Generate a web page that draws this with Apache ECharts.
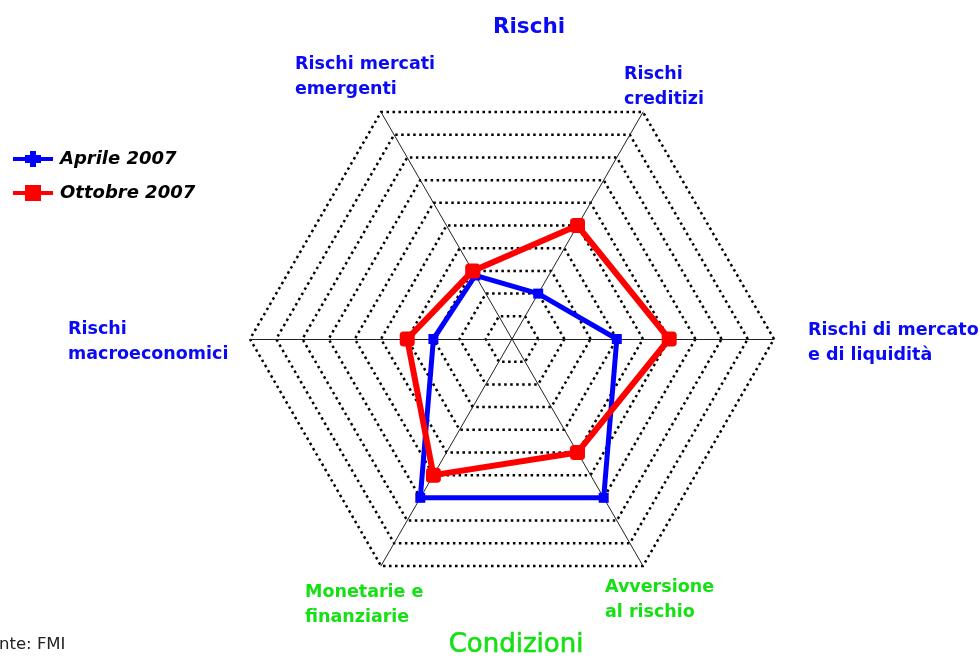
<!DOCTYPE html>
<html>
<head>
<meta charset="utf-8">
<title>Rischi e condizioni</title>
<script src="https://cdn.jsdelivr.net/npm/echarts@6/dist/echarts.min.js"></script>
<style>
  html, body { margin: 0; padding: 0; background: #fff; }
  #chart { width: 980px; height: 660px; }
</style>
</head>
<body>
<div id="chart"></div>
<script>
// Radar axes, counter-clockwise starting from the right-hand spoke
const indicators = [
  'Rischi di mercato e di liquidità',
  'Rischi creditizi',
  'Rischi mercati emergenti',
  'Rischi macroeconomici',
  'Monetarie e finanziarie',
  'Avversione al rischio'
];
const axisMax = 10;

// Scores on each axis (0 = centre, 10 = outer ring)
const seriesNames = ['Aprile 2007', 'Ottobre 2007'];
const aprile2007 = [4, 2, 2.8, 3, 7, 7];
const ottobre2007 = [6, 5, 3, 4, 6, 5];

const BLUE = '#0000ff';
const RED = '#ff0000';
const LABEL_BLUE = '#0a0af5';
const LABEL_GREEN = '#14e014';

// Axis captions drawn around the hexagon: [lines, left x, first-line y, colour]
const captions = [
  [['Rischi mercati', 'emergenti'], 295, 64, LABEL_BLUE],
  [['Rischi', 'creditizi'], 624, 74, LABEL_BLUE],
  [['Rischi di mercato', 'e di liquidità'], 808, 330, LABEL_BLUE],
  [['Rischi', 'macroeconomici'], 68, 329, LABEL_BLUE],
  [['Monetarie e', 'finanziarie'], 305, 592, LABEL_GREEN],
  [['Avversione', 'al rischio'], 605, 587, LABEL_GREEN]
];

const graphics = [];
captions.forEach(function (c) {
  c[0].forEach(function (line, i) {
    graphics.push({
      type: 'text',
      style: {
        text: line, x: c[1], y: c[2] + i * 25,
        fill: c[3], font: 'bold 17.5px "DejaVu Sans"',
        align: 'left', verticalAlign: 'middle'
      }
    });
  });
});
graphics.push(
  { type: 'text', style: { text: 'Rischi', x: 529, y: 27, fill: LABEL_BLUE,
      font: 'bold 21.5px "DejaVu Sans"', align: 'center', verticalAlign: 'middle' } },
  { type: 'text', style: { text: 'Condizioni', x: 516, y: 645, fill: LABEL_GREEN,
      font: '26px "DejaVu Sans"', align: 'center', verticalAlign: 'middle',
      stroke: LABEL_GREEN, lineWidth: 0.6 } },
  { type: 'text', style: { text: 'Fonte: FMI', x: -20, y: 645, fill: '#222',
      font: '16.5px "DejaVu Sans"', align: 'left', verticalAlign: 'middle' } }
);

const chart = echarts.init(document.getElementById('chart'), null, { renderer: 'canvas' });

chart.setOption({
  backgroundColor: '#ffffff',
  animation: false,
  legend: {
    orient: 'vertical',
    left: 13,
    top: 150,
    padding: 0,
    itemWidth: 40,
    itemHeight: 16,
    itemGap: 16,
    selectedMode: false,
    textStyle: {
      fontFamily: 'DejaVu Sans', fontWeight: 'bold', fontStyle: 'italic',
      fontSize: 18, color: '#000', padding: [0, 0, 0, 2]
    },
    data: [
      { name: seriesNames[0], icon: 'path://M0,6h40v4H0z M12,4h16v8H12z M17,0h6v16h-6z' },
      { name: seriesNames[1], icon: 'path://M0,6h40v4H0z M12,0h16v16H12z' }
    ]
  },
  radar: {
    center: [512, 339],
    radius: 262,
    startAngle: 0,
    splitNumber: 10,
    shape: 'polygon',
    indicator: indicators.map(function (n) { return { name: n, min: 0, max: axisMax }; }),
    axisName: { show: false },
    splitLine: { lineStyle: { color: '#000', width: 2.5, type: [2.5, 3.5] } },
    splitArea: { show: false },
    axisLine: { lineStyle: { color: '#222', width: 1 } }
  },
  graphic: graphics,
  series: [
    {
      type: 'radar',
      name: seriesNames[0],
      z: 2,
      symbol: 'rect',
      symbolSize: 10,
      itemStyle: { color: BLUE },
      lineStyle: { color: BLUE, width: 5 },
      data: [{ name: seriesNames[0], value: aprile2007 }]
    },
    {
      type: 'radar',
      name: seriesNames[1],
      z: 3,
      symbol: 'roundRect',
      symbolSize: 15,
      itemStyle: { color: RED },
      lineStyle: { color: RED, width: 6 },
      data: [{ name: seriesNames[1], value: ottobre2007 }]
    }
  ]
});
</script>
</body>
</html>
